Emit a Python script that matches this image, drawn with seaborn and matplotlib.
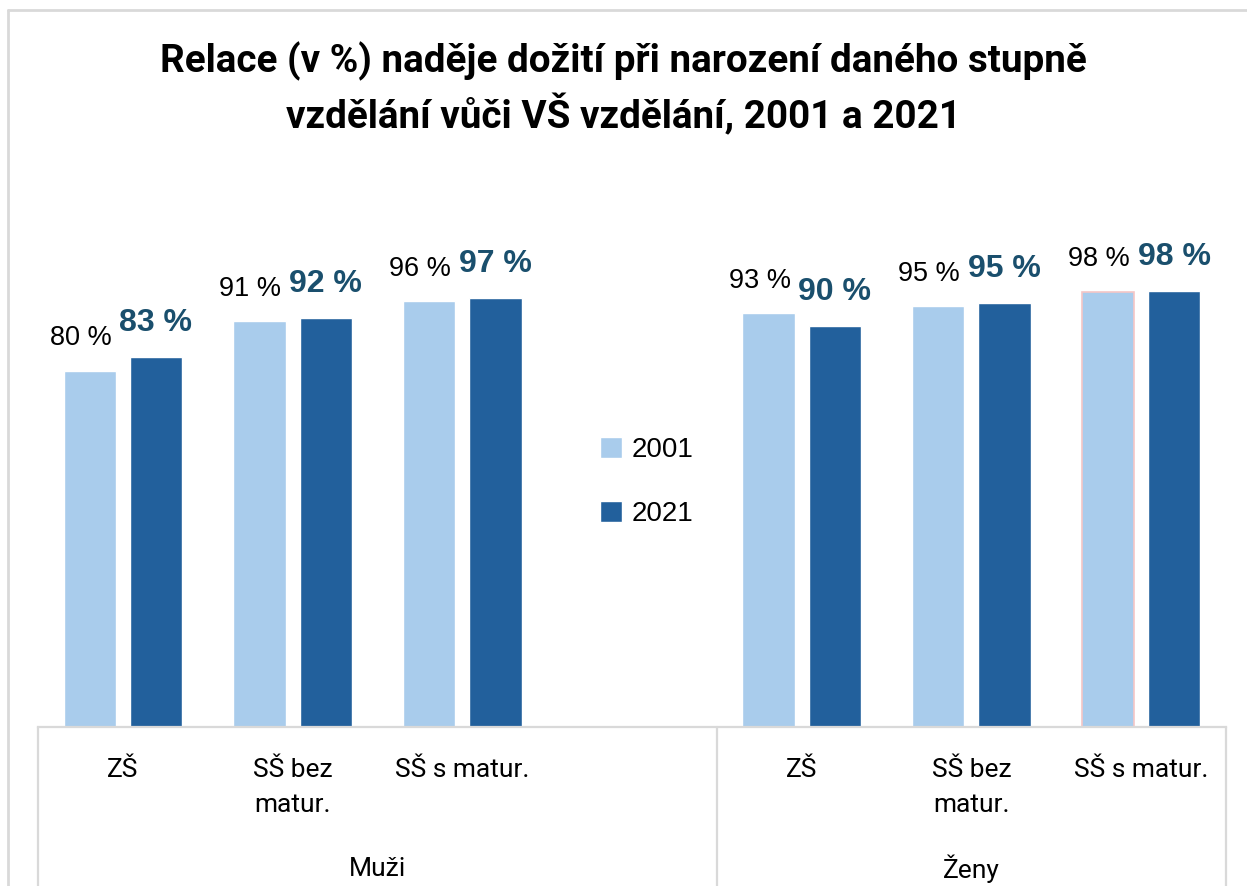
import numpy as np
import pandas as pd
import matplotlib
matplotlib.use("Agg")
import matplotlib.pyplot as plt
from matplotlib.lines import Line2D
from matplotlib.patches import Patch
import seaborn as sns

# data
groups = ["Muži", "Ženy"]
levels = ["ZŠ", "SŠ bez\nmatur.", "SŠ s matur."]
years = ["2001", "2021"]
muzi_2001 = [80.2, 91.4, 95.9]
muzi_2021 = [83.3, 92.1, 96.6]
zeny_2001 = [93.2, 94.8, 98.0]
zeny_2021 = [90.3, 95.4, 98.2]

LIGHT = "#A9CCEC"
DARK = "#22609C"
LABEL_DARK = "#1A4F6D"
GRID = "#D9D9D9"
NARROW = ["Roboto", "DejaVu Sans"]

sns.set_theme(style="white")
plt.rcParams["font.family"] = ["Liberation Sans", "DejaVu Sans"]
plt.rcParams["text.color"] = "black"

rows = []
for g, v01, v21 in [("Muži", muzi_2001, muzi_2021), ("Ženy", zeny_2001, zeny_2021)]:
    for lev, a, b in zip(levels, v01, v21):
        rows.append({"slot": g + "|" + lev, "group": g, "level": lev, "year": "2001", "value": a})
        rows.append({"slot": g + "|" + lev, "group": g, "level": lev, "year": "2021", "value": b})
df = pd.DataFrame(rows)

# Muži has an empty fourth slot (legend sits there)
order = ["Muži|" + l for l in levels] + ["Muži|"] + ["Ženy|" + l for l in levels]

fig = plt.figure(figsize=(12.47, 8.86), dpi=100)
ax = fig.add_axes([38 / 1247, 1 - 727 / 886, 1188 / 1247, 488.4 / 886])

sns.barplot(data=df, x="slot", y="value", hue="year", order=order, hue_order=years,
            palette=[LIGHT, DARK], saturation=1, width=0.78, ax=ax, legend=False)

# thin the bars so there is a gap between the pair
for p in ax.patches:
    w = p.get_width()
    nw = w * 0.79
    p.set_x(p.get_x() + (w - nw) / 2)
    p.set_width(nw)

# the last light bar has a faint pink outline in the original
ax.containers[0][-1].set_edgecolor("#F5C6C6")
ax.containers[0][-1].set_linewidth(1.2)

ax.set_ylim(0, 110)
ax.set_xlim(-0.5, len(order) - 0.5)
ax.set_xlabel("")
ax.set_ylabel("")
ax.set_xticks([])
ax.set_yticks([])
for s in ["top", "right", "left"]:
    ax.spines[s].set_visible(False)
ax.spines["bottom"].set_color(GRID)
ax.spines["bottom"].set_linewidth(1.6)

# value labels
for cont, yr in zip(ax.containers, years):
    vals = [p.get_height() for p in cont]
    labs = [f"{round(v)} %" for v in vals]
    if yr == "2001":
        texts = ax.bar_label(cont, labels=labs, padding=14, fontsize=19.5, color="black")
        for t in texts:
            t.xyann = (-6.5, 14)
    else:
        ax.bar_label(cont, labels=labs, padding=14, fontsize=23, color=LABEL_DARK,
                     fontweight="bold")

# multi-level category axis
trans = ax.get_xaxis_transform()
for i, key in enumerate(order):
    g, lev = key.split("|")
    if lev:
        ax.text(i, -0.064, lev, transform=trans, ha="center", va="top",
                fontsize=19, family=NARROW, linespacing=1.55)
for g in groups:
    idx = [i for i, k in enumerate(order) if k.startswith(g + "|")]
    ax.text(np.mean(idx), -0.29, g, transform=trans, ha="center", va="center",
            fontsize=19, family=NARROW)
for xv in [-0.5, 3.5, len(order) - 0.5]:
    ax.plot([xv, xv], [0, -0.33], transform=trans, color=GRID, lw=1.6, clip_on=False)

# legend in the empty slot
handles = [Patch(facecolor=LIGHT), Patch(facecolor=DARK)]
fig.legend(handles, years, loc="center left", bbox_to_anchor=(575 / 1247, 1 - 482 / 886),
           frameon=False, fontsize=20, handlelength=0.8, handleheight=0.8,
           handletextpad=0.35, labelspacing=1.38)

# title
fig.text(0.5, 1 - 89 / 886,
         "Relace (v %) naděje dožití při narození daného stupně\nvzdělání vůči VŠ vzdělání, 2001 a 2021",
         ha="center", va="center", fontsize=27.8, fontweight="bold", family=NARROW,
         linespacing=1.38)

# outer chart border
fig.add_artist(Line2D([8 / 1247, 1], [1 - 10 / 886, 1 - 10 / 886], color=GRID, lw=2,
                      transform=fig.transFigure))
fig.add_artist(Line2D([8 / 1247, 8 / 1247], [0, 1 - 10 / 886], color=GRID, lw=2,
                      transform=fig.transFigure))

fig.savefig("out.png", dpi=100)
